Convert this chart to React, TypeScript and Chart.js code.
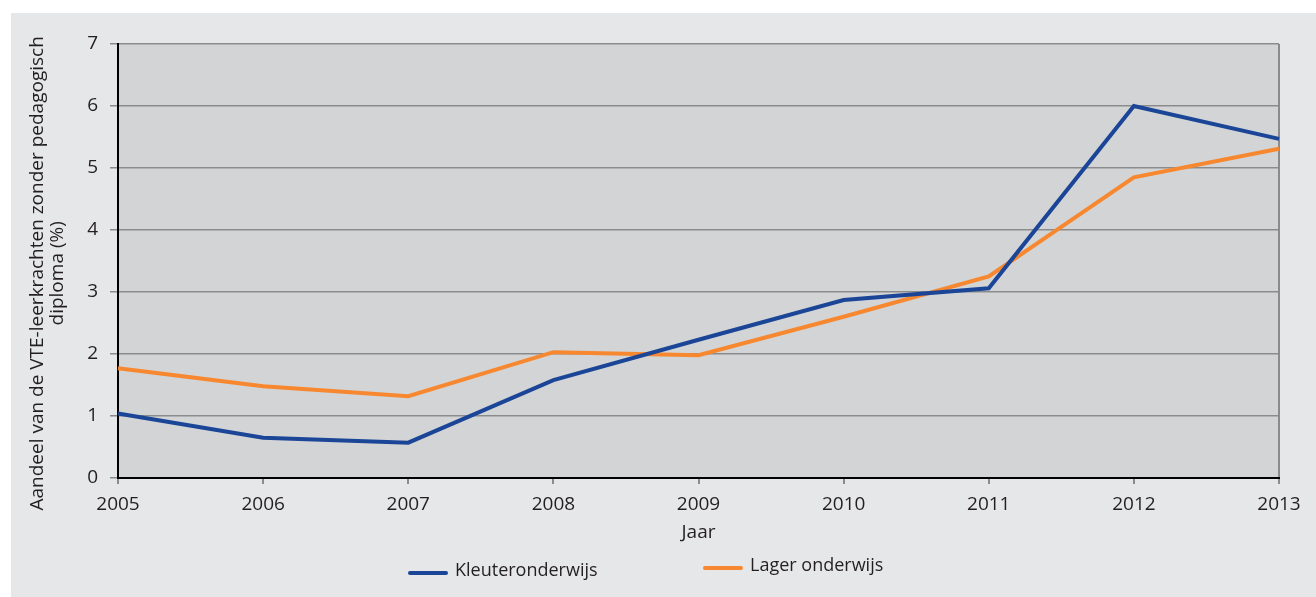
import React, { useEffect, useRef } from "react";
import { Chart, registerables } from "chart.js";

Chart.register(...registerables);

const years = ["2005", "2006", "2007", "2008", "2009", "2010", "2011", "2012", "2013"];
const kleuterValues = [1.04, 0.65, 0.57, 1.58, 2.23, 2.87, 3.06, 6.0, 5.47];
const lagerValues = [1.77, 1.48, 1.32, 2.03, 1.98, 2.6, 3.25, 4.85, 5.31];
const seriesLabels = ["Kleuteronderwijs", "Lager onderwijs"];
const seriesColors = ["#1b4597", "#f7882f"];
const yTitle = ["Aandeel van de VTE-leerkrachten zonder pedagogisch     ", "diploma (%)     "];
const xTitle = "Jaar";

const TEXT = "#231f20";
const GRID = "#8b8b8b";
const PLOT_BG = "#d3d4d6";
const OUTER_BG = "#e6e7e8";

const plotBgPlugin = {
  id: "plotBg",
  beforeDraw(chart: any) {
    const { ctx, chartArea } = chart;
    ctx.save();
    ctx.fillStyle = PLOT_BG;
    ctx.fillRect(chartArea.left, chartArea.top, chartArea.right - chartArea.left, chartArea.bottom - chartArea.top);
    ctx.restore();
  },
};

const legendPlugin = {
  id: "customLegend",
  afterDraw(chart: any) {
    const { ctx } = chart;
    const cx = chart.width / 2;
    const h = chart.height;
    const spots = [
      { x: cx - 255.5, y: h - 24, ty: h - 26 },
      { x: cx + 39.5, y: h - 29, ty: h - 31 },
    ];
    ctx.save();
    chart.data.datasets.forEach((ds: any, i: number) => {
      const s = spots[i];
      ctx.strokeStyle = ds.borderColor;
      ctx.lineWidth = 4;
      ctx.lineCap = "round";
      ctx.beginPath();
      ctx.moveTo(s.x + 2, s.y);
      ctx.lineTo(s.x + 38, s.y);
      ctx.stroke();
      ctx.fillStyle = TEXT;
      ctx.font = '18px "Open Sans"';
      ctx.textBaseline = "middle";
      ctx.textAlign = "left";
      ctx.fillText(ds.label, s.x + 47, s.ty);
    });
    ctx.restore();
  },
};

export default function App() {
  const ref = useRef<HTMLCanvasElement | null>(null);

  useEffect(() => {
    if (!ref.current) return;
    Chart.defaults.font.family = '"Open Sans", sans-serif';
    Chart.defaults.font.size = 19;
    Chart.defaults.color = TEXT;
    const chart = new Chart(ref.current, {
      type: "line",
      data: {
        labels: years,
        datasets: [
          {
            label: seriesLabels[0],
            data: kleuterValues,
            borderColor: seriesColors[0],
            backgroundColor: seriesColors[0],
            borderWidth: 4,
            pointRadius: 0,
            tension: 0,
          },
          {
            label: seriesLabels[1],
            data: lagerValues,
            borderColor: seriesColors[1],
            backgroundColor: seriesColors[1],
            borderWidth: 4,
            pointRadius: 0,
            tension: 0,
          },
        ],
      },
      options: {
        animation: false,
        responsive: true,
        maintainAspectRatio: false,
        layout: { padding: { left: 15, right: 15, top: 31, bottom: 53 } },
        plugins: {
          legend: { display: false },
          tooltip: { enabled: false },
        },
        scales: {
          x: {
            type: "category",
            offset: false,
            border: { display: true, color: "#000000", width: 2 },
            grid: {
              drawOnChartArea: true,
              color: (c: any) => (c.index === years.length - 1 ? GRID : "rgba(0,0,0,0)"),
              lineWidth: 2,
              tickColor: GRID,
              tickLength: 6,
              drawTicks: true,
            },
            ticks: { color: TEXT, padding: 9, maxRotation: 0, autoSkip: false, font: { size: 19 } },
            title: { display: true, text: xTitle, color: TEXT, font: { size: 19 }, padding: { top: 0, bottom: 0 } },
            afterFit: (scale: any) => {
              scale.paddingRight = 37;
              scale.height = 66;
            },
          },
          y: {
            min: 0,
            max: 7,
            border: { display: true, color: "#000000", width: 2 },
            grid: {
              color: GRID,
              lineWidth: 1.5,
              tickColor: GRID,
              tickLength: 8,
            },
            ticks: { stepSize: 1, color: TEXT, padding: 12, font: { size: 19 } },
            title: {
              display: true,
              text: yTitle,
              color: TEXT,
              font: { size: 19, lineHeight: 1.05 },
              padding: { top: 2, bottom: 0 },
            },
            afterFit: (scale: any) => {
              scale.width = 92;
            },
          },
        },
      },
      plugins: [plotBgPlugin, legendPlugin],
    });
    return () => chart.destroy();
  }, []);

  return (
    <div
      style={{
        position: "fixed",
        left: 11,
        top: 13,
        width: 1305,
        height: 584,
        background: OUTER_BG,
      }}
    >
      <canvas ref={ref} />
    </div>
  );
}
